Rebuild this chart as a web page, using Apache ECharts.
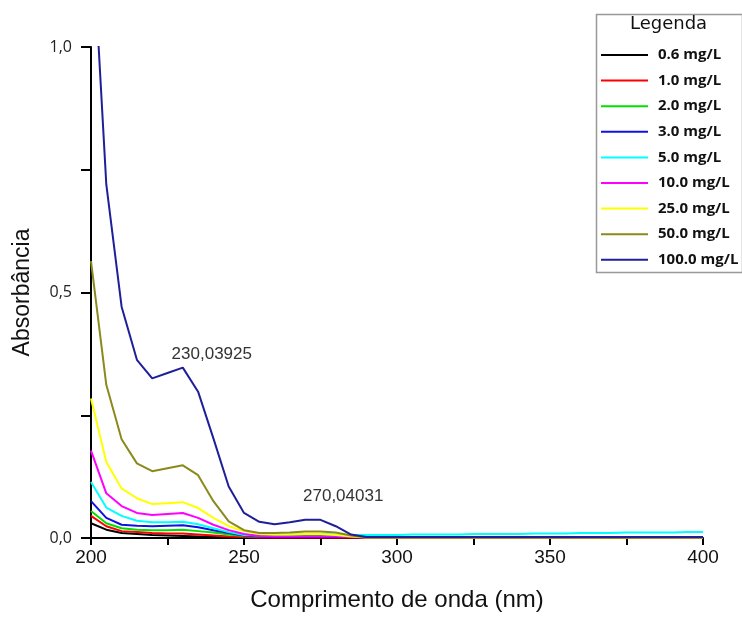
<!DOCTYPE html>
<html>
<head>
<meta charset="utf-8">
<script src="https://cdn.jsdelivr.net/npm/echarts@6/dist/echarts.min.js"></script>
<style>
html,body{margin:0;padding:0;background:#fff;}
#chart{width:742px;height:617px;}
</style>
</head>
<body>
<div id="chart"></div>
<script>
// Wavelengths (nm)
const wavelengths = [200,205,210,215,220,225,230,235,240,245,250,255,260,265,270,275,280,285,290,295,300,305,310,315,320,325,330,335,340,345,350,355,360,365,370,375,380,385,390,395,400];

const seriesNames = ['0.6 mg/L','1.0 mg/L','2.0 mg/L','3.0 mg/L','5.0 mg/L','10.0 mg/L','25.0 mg/L','50.0 mg/L','100.0 mg/L'];
const seriesColors = ['#000000','#ff0000','#00e000','#1010e0','#00ffff','#ff00ff','#ffff00','#8a8a1c','#1f1f99'];

const c0_6 = [0.030,0.017,0.010,0.008,0.006,0.005,0.004,0.003,0.002,0.001,0.001,0.000,0.000,0.000,0.000,0.000,0.000,0.000,0.000,0.000,0.000,0.000,0.000,0.000,0.000,0.000,0.000,0.000,0.000,0.000,0.000,0.000,0.000,0.000,0.000,0.000,0.000,0.000,0.000,0.000,0.000];
const c1_0 = [0.045,0.024,0.014,0.012,0.010,0.009,0.009,0.007,0.005,0.003,0.002,0.001,0.001,0.001,0.001,0.001,0.001,0.001,0.001,0.001,0.001,0.001,0.001,0.001,0.001,0.001,0.001,0.001,0.001,0.001,0.001,0.001,0.001,0.001,0.001,0.001,0.001,0.001,0.001,0.001,0.001];
const c2_0 = [0.055,0.030,0.020,0.017,0.016,0.016,0.017,0.014,0.011,0.007,0.004,0.003,0.003,0.004,0.004,0.004,0.003,0.002,0.002,0.002,0.002,0.002,0.002,0.002,0.002,0.002,0.002,0.002,0.002,0.002,0.002,0.002,0.002,0.002,0.002,0.002,0.002,0.002,0.002,0.002,0.002];
const c3_0 = [0.075,0.041,0.027,0.025,0.024,0.025,0.026,0.022,0.016,0.010,0.005,0.003,0.002,0.002,0.002,0.002,0.002,0.002,0.002,0.002,0.002,0.002,0.002,0.002,0.002,0.002,0.002,0.002,0.002,0.002,0.002,0.002,0.002,0.002,0.002,0.002,0.002,0.002,0.002,0.002,0.002];
const c5_0 = [0.114,0.062,0.045,0.035,0.032,0.032,0.033,0.028,0.020,0.012,0.006,0.005,0.006,0.007,0.008,0.008,0.007,0.006,0.006,0.006,0.006,0.007,0.007,0.007,0.007,0.008,0.008,0.008,0.008,0.009,0.009,0.009,0.010,0.010,0.010,0.011,0.011,0.011,0.011,0.012,0.012];
const c10_0 = [0.178,0.091,0.065,0.051,0.047,0.049,0.051,0.041,0.027,0.016,0.008,0.004,0.003,0.003,0.003,0.003,0.003,0.002,0.001,0.001,0.001,0.001,0.001,0.001,0.001,0.001,0.001,0.001,0.001,0.001,0.001,0.001,0.001,0.001,0.002,0.002,0.001,0.001,0.001,0.001,0.001];
const c25_0 = [0.284,0.155,0.101,0.081,0.069,0.071,0.073,0.061,0.041,0.024,0.014,0.008,0.007,0.007,0.008,0.008,0.006,0.003,0.001,0.001,0.001,0.001,0.001,0.001,0.001,0.001,0.001,0.001,0.001,0.001,0.001,0.001,0.001,0.001,0.001,0.001,0.001,0.001,0.001,0.001,0.001];
const c50_0 = [0.564,0.312,0.201,0.152,0.136,0.142,0.148,0.128,0.075,0.034,0.016,0.010,0.010,0.011,0.013,0.013,0.011,0.005,0.001,0.001,0.001,0.001,0.001,0.001,0.001,0.001,0.001,0.001,0.001,0.001,0.001,0.001,0.001,0.001,0.001,0.001,0.001,0.001,0.001,0.001,0.001];
const c100_0 = [1.280,0.720,0.471,0.363,0.325,0.336,0.347,0.298,0.203,0.105,0.051,0.033,0.028,0.032,0.037,0.037,0.024,0.007,0.002,0.002,0.002,0.002,0.002,0.002,0.002,0.002,0.002,0.002,0.002,0.002,0.002,0.002,0.002,0.002,0.002,0.002,0.002,0.002,0.002,0.002,0.002];

const seriesValues = [c0_6,c1_0,c2_0,c3_0,c5_0,c10_0,c25_0,c50_0,c100_0];

const xTicks = [200,250,300,350,400];
const yTicks = [0,0.5,1.0];

const annotations = [
  {name:'230,03925', coord:[230,0.347], offset:[29,-13]},
  {name:'270,04031', coord:[270,0.037], offset:[38,-24]}
];

const chart = echarts.init(document.getElementById('chart'));

const series = seriesNames.map((n,i)=>{
  const s = {
    name:n,
    type:'line',
    data: wavelengths.map((w,j)=>[w, seriesValues[i][j]]),
    symbol:'none',
    clip:true,
    lineStyle:{color:seriesColors[i], width:2},
    itemStyle:{color:seriesColors[i]},
    animation:false,
    z: 2+i
  };
  if(i===seriesNames.length-1){
    s.markPoint = {
      symbol:'circle', symbolSize:0, animation:false,
      label:{show:true, position:'inside', color:'#333', fontSize:17, fontFamily:'Liberation Sans, Arial, sans-serif', formatter:(p)=>p.name},
      data: annotations.map(a=>({name:a.name, coord:a.coord, label:{offset:a.offset}}))
    };
  }
  return s;
});

chart.setOption({
  animation:false,
  backgroundColor:'#fff',
  grid:{left:91, right:39, top:47, bottom:77, containLabel:false},
  xAxis:{
    type:'value', min:200, max:400, interval:25,
    name:'Comprimento de onda (nm)', nameLocation:'middle', nameGap:50,
    nameTextStyle:{fontSize:24, color:'#111', fontFamily:'Liberation Sans, Arial, sans-serif'},
    axisLine:{show:true, onZero:false, lineStyle:{color:'#000', width:2}},
    axisTick:{show:true, inside:false, length:7, lineStyle:{color:'#000', width:2}},
    axisLabel:{margin:10, fontSize:19, color:'#111', fontFamily:'Liberation Sans, Arial, sans-serif',
      formatter:(v)=> xTicks.indexOf(v)>=0 ? String(v) : ''},
    splitLine:{show:false}
  },
  yAxis:{
    type:'value', min:0, max:1, interval:0.25,
    name:'Absorbância', nameLocation:'middle', nameGap:57, nameRotate:90,
    nameTextStyle:{fontSize:23, color:'#111', fontFamily:'Liberation Sans, Arial, sans-serif'},
    axisLine:{show:true, onZero:false, lineStyle:{color:'#000', width:2}},
    axisTick:{show:true, inside:false, length:10, lineStyle:{color:'#000', width:2}},
    axisLabel:{margin:19, fontSize:16, color:'#222', fontFamily:'Open Sans, sans-serif',
      formatter:(v)=>{ for(const t of yTicks){ if(Math.abs(v-t)<1e-9) return t.toFixed(1).replace('.',','); } return ''; }},
    splitLine:{show:false}
  },
  legend:{
    orient:'vertical', left:596, top:42,
    icon:'rect', itemWidth:47, itemHeight:2, itemGap:9.6,
    textStyle:{fontSize:15, fontWeight:'bold', color:'#111', fontFamily:'Open Sans, sans-serif', lineHeight:16, padding:[0,0,0,5]},
    data:seriesNames
  },
  graphic:[
    {type:'rect', left:594, top:12, shape:{width:146, height:258}, style:{fill:'none', stroke:'#999', lineWidth:1.5}, z:0},
    {type:'text', left:630, top:15, style:{text:'Legenda', fontSize:18, fill:'#111', fontFamily:'DejaVu Sans, sans-serif'}}
  ],
  series:series
});
</script>
</body>
</html>
